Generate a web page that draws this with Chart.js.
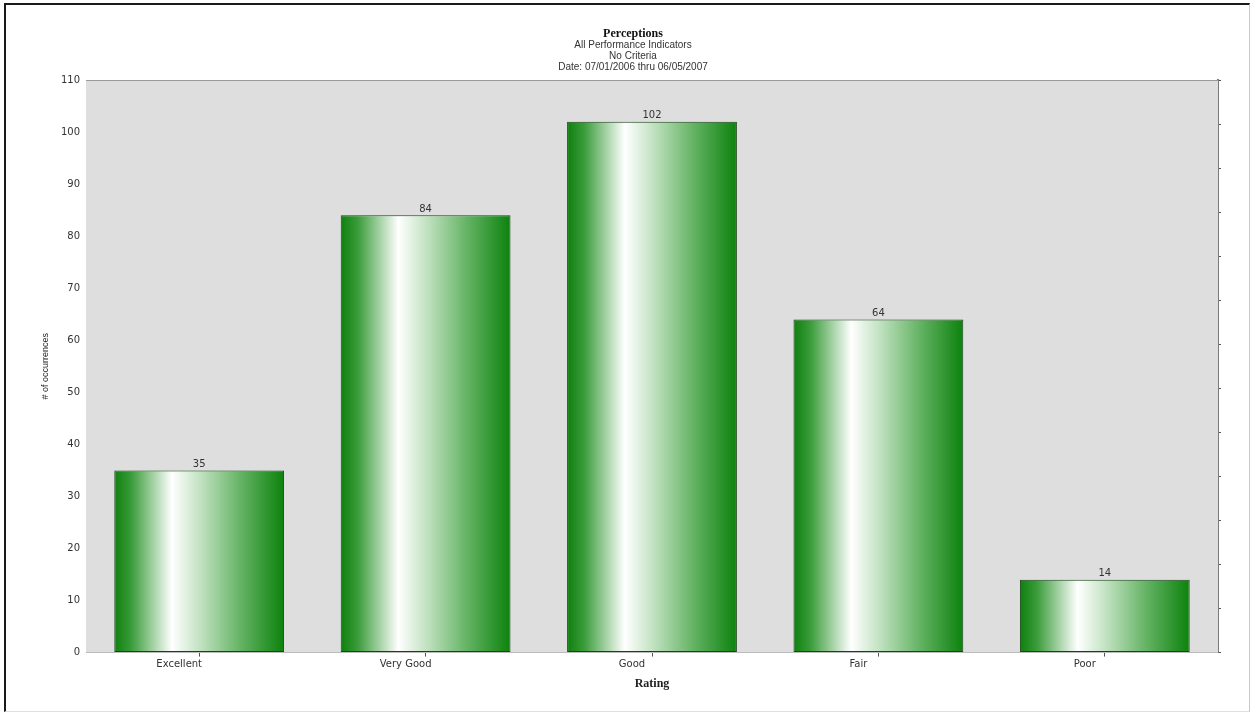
<!DOCTYPE html>
<html>
<head>
<meta charset="utf-8">
<script src="https://cdn.jsdelivr.net/npm/chart.js@4.4.1/dist/chart.umd.min.js"></script>
<style>
  html, body { margin: 0; padding: 0; background: #fff; }
  #frame {
    position: absolute; left: 4px; top: 3px; width: 1243px; height: 706px;
    border-top: 2px solid #1a1a1a; border-left: 2px solid #1a1a1a;
    border-right: 1px solid #c8c8c8; border-bottom: 1px solid #e0e0e0;
  }
  #grafico { position: absolute; left: 0; top: 0; }
</style>
</head>
<body>
<div id="frame"></div>
<canvas id="grafico" width="1251" height="713"></canvas>
<script>
const categorias = ['Excellent', 'Very Good', 'Good', 'Fair', 'Poor'];
const ocurrencias = [35, 84, 102, 64, 14];
const ejeYMin = 0;
const ejeYMax = 110;
const ejeYPaso = 10;
const tituloLineas = ['All Performance Indicators', 'No Criteria', 'Date: 07/01/2006 thru 06/05/2007'];

// relleno gris del area de trazado y linea superior
const fondoArea = {
    id: 'fondoArea',
    beforeDatasetsDraw(chart) {
        const { ctx, chartArea: a } = chart;
        ctx.save();
        ctx.fillStyle = '#dedede';
        ctx.fillRect(a.left, a.top, a.right - a.left, a.bottom - a.top);
        ctx.strokeStyle = '#9a9a9a';
        ctx.lineWidth = 1;
        ctx.beginPath();
        ctx.moveTo(a.left, a.top + 0.5);
        ctx.lineTo(a.right, a.top + 0.5);
        ctx.stroke();
        ctx.restore();
    }
};

// valores encima de cada barra
const etiquetasValor = {
    id: 'etiquetasValor',
    afterDatasetsDraw(chart) {
        const { ctx } = chart;
        const meta = chart.getDatasetMeta(0);
        ctx.save();
        ctx.font = '10px "DejaVu Sans", Arial, sans-serif';
        ctx.fillStyle = '#333';
        ctx.textAlign = 'center';
        ctx.textBaseline = 'bottom';
        meta.data.forEach((bar, i) => {
            ctx.fillText(ocurrencias[i], bar.x, bar.y - 1);
        });
        ctx.restore();
    }
};

function degradado(context) {
    const chart = context.chart;
    if (!chart.chartArea) return '#1a8a1a';
    const xs = chart.scales.x;
    const cx = xs.getPixelForValue(context.dataIndex);
    const w = xs.width / categorias.length * 0.75;
    const g = chart.ctx.createLinearGradient(cx - w / 2, 0, cx + w / 2, 0);
    g.addColorStop(0, '#0e800e');
    g.addColorStop(0.1, '#3a9c3a');
    g.addColorStop(0.34, '#ffffff');
    g.addColorStop(0.5, '#c4e3c4');
    g.addColorStop(0.75, '#62b262');
    g.addColorStop(1, '#0c820c');
    return g;
}

const fuenteTick = { family: '"DejaVu Sans", Arial, sans-serif', size: 10 };

new Chart(document.getElementById('grafico'), {
    type: 'bar',
    data: {
        labels: categorias,
        datasets: [{
            data: ocurrencias,
            backgroundColor: degradado,
            borderColor: '#1a431a',
            borderWidth: 1,
            borderSkipped: false,
            barPercentage: 0.75,
            categoryPercentage: 1
        }]
    },
    options: {
        responsive: false,
        animation: false,
        layout: { padding: { top: 28, left: 40, right: 25, bottom: 22 } },
        plugins: {
            legend: { display: false },
            tooltip: { enabled: false },
            title: {
                display: true,
                text: 'Perceptions',
                color: '#111',
                font: { family: '"Liberation Serif", serif', size: 12, weight: 'bold', lineHeight: 1.0 },
                padding: { top: 0, bottom: 0 }
            },
            subtitle: {
                display: true,
                text: tituloLineas,
                color: '#333',
                font: { family: 'Arial, "Liberation Sans", sans-serif', size: 10, lineHeight: 1.1 },
                padding: { top: 0, bottom: 7 }
            }
        },
        scales: {
            x: {
                grid: { display: true, drawOnChartArea: false, offset: false, tickLength: 4, color: '#555' },
                border: { display: true, color: '#888', width: 1 },
                ticks: { color: '#333', font: fuenteTick, labelOffset: -20, padding: 2, maxRotation: 0 },
                title: {
                    display: true,
                    text: 'Rating',
                    color: '#222',
                    font: { family: '"Liberation Serif", serif', size: 12, weight: 'bold' },
                    padding: { top: 4, bottom: 0 }
                }
            },
            y: {
                min: ejeYMin,
                max: ejeYMax,
                ticks: { stepSize: ejeYPaso, color: '#333', font: fuenteTick, padding: 6 },
                grid: { display: true, drawOnChartArea: false, tickLength: 0, color: '#888' },
                border: { display: true, color: '#888', width: 1 },
                title: {
                    display: true,
                    text: '# of occurrences',
                    color: '#222',
                    font: { family: 'Arial, "Liberation Sans", sans-serif', size: 9 },
                    padding: { top: 0, bottom: 8 }
                },
                afterFit(scale) { scale.width = 46; }
            },
            y2: {
                position: 'right',
                min: 0,
                max: 130,
                ticks: { stepSize: 10, display: true, color: 'rgba(0,0,0,0)', font: { size: 1 }, padding: 0 },
                grid: { display: true, drawOnChartArea: false, tickLength: 3, color: '#555' },
                border: { display: true, color: '#7a7a7a', width: 2 },
                afterFit(scale) { scale.width = 8; }
            }
        }
    },
    plugins: [fondoArea, etiquetasValor]
});
</script>
</body>
</html>
